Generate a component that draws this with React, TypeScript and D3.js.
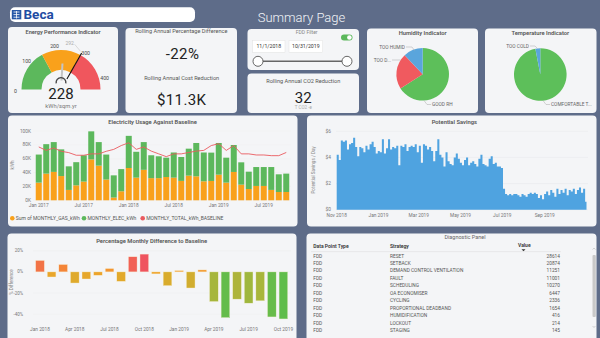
import React from 'react';
import * as d3 from 'd3';

const FONT = 'Roboto, "Noto Sans", "DejaVu Sans", sans-serif';
const BG = '#5e6c89';
const PANEL = '#f4f5f7';
const TITLE = '#555';

// ---------------- Data ----------------
const gaugeBandEdges = [0, 150, 292, 440];
const gaugeBandColors = ['#5cb85c', '#f9a11b', '#f0565d'];
const gaugeTicks = [0, 100, 200, 300, 400];
const gaugeValue = 228;
const gaugeTarget = 292;
const gaugeUnit = 'kWh/sqm.yr';

const kpiPercentDiff = '-22%';
const kpiCostReduction = '$11.3K';
const kpiCO2 = '32';
const fddStart = '11/1/2018';
const fddEnd = '10/31/2019';

const humidityLabels = ['GOOD RH', 'TOO D...', 'TOO HUMID'];
const humidityValues = [66, 22, 12];
const humidityColors = ['#5dbf5a', '#f05a5f', '#5aa5dc'];
const temperatureLabels = ['COMFORTABLE T...', 'TOO COLD'];
const temperatureValues = [97, 3];
const temperatureColors = ['#5dbf5a', '#5aa5dc'];

const elecMonths = [
  '2017-01', '2017-02', '2017-03', '2017-04', '2017-05', '2017-06', '2017-07', '2017-08', '2017-09', '2017-10', '2017-11', '2017-12',
  '2018-01', '2018-02', '2018-03', '2018-04', '2018-05', '2018-06', '2018-07', '2018-08', '2018-09', '2018-10', '2018-11', '2018-12',
  '2019-01', '2019-02', '2019-03', '2019-04', '2019-05', '2019-06', '2019-07', '2019-08', '2019-09', '2019-10',
];
const gasKwh = [25.5, 38.5, 41, 35, 15, 21.6, 27, 59, 50, 30, 4, 13, 46.6, 32.7, 44, 32, 32, 33.6, 32.7, 28, 35.6, 34.6, 27.4, 27.9, 37, 25.5, 40.9, 22.6, 16.3, 20.7, 20.7, 15, 12, 12].map(v => v * 1000);
const elecKwh = [40.5, 42.5, 43, 38.5, 34, 33.4, 38, 40.5, 34, 36, 32, 32, 46.4, 37.3, 40, 33, 31.5, 27.9, 36.3, 34.5, 38.9, 48.1, 41.6, 40.9, 45.7, 36, 38.9, 32.2, 25, 27.3, 27.3, 33, 25.5, 26.5].map(v => v * 1000);
const baselineKwh = [77, 72, 75.5, 70.7, 68.8, 65, 65, 67, 67, 70.7, 73.5, 79, 83, 73.5, 77, 71, 67, 63, 67, 67, 69, 71, 72, 79, 81.7, 72, 79, 67, 67, 65.4, 65.4, 64.4, 64.4, 69].map(v => v * 1000);
const elecTicks = [0, 20000, 40000, 60000, 80000, 100000];
const elecXLabels = ['2017-01', '2017-07', '2018-01', '2018-07', '2019-01', '2019-07'];
const elecLegend = ['Sum of MONTHLY_GAS_kWh', 'MONTHLY_ELEC_kWh', 'MONTHLY_TOTAL_kWh_BASELINE'];

const savingsStart = '2018-11-01';
const savingsEnd = '2019-11-01';
const savingsStepDays = 3;
const savingsPerDay = [
  4.2, 3.8, 5.3, 5.2, 5.3, 4.6, 5.0, 5.1, 5.5, 4.8, 4.1, 4.8, 4.7, 4.4, 4.9, 4.6, 5.0, 5.2, 4.8, 4.3,
  4.5, 4.4, 5.4, 4.3, 4.7, 5.4, 4.6, 4.8, 4.7, 4.9, 3.4, 4.9, 4.8, 5.0, 4.5, 4.8, 4.9, 4.8, 5.0, 4.4,
  4.9, 3.6, 5.0, 4.9, 4.6, 4.8, 4.5, 3.7, 4.5, 5.4, 4.2, 4.0, 3.3, 4.4, 3.7, 3.5, 3.4, 4.0, 4.3, 3.9,
  3.6, 3.4, 3.8, 4.0, 3.4, 3.6, 3.7, 3.5, 3.3, 3.9, 4.2, 3.5, 3.4, 3.3, 3.9, 4.1, 3.5, 3.6, 3.3, 3.3,
  3.2, 1.6, 1.2, 1.1, 1.2, 1.1, 1.2, 1.2, 1.1, 1.0, 1.2, 1.1, 1.0, 1.2, 1.3, 1.2, 1.3, 1.2, 0.9, 1.1,
  0.8, 1.2, 1.4, 1.1, 1.5, 1.3, 1.0, 1.6, 1.2, 1.5, 1.3, 1.6, 1.1, 1.5, 1.4, 1.6, 1.2, 1.5, 1.7, 1.3,
  1.6, 0.6,
];
const savingsTicks = [0, 2, 4, 6];
const savingsXLabels = ['2018-11', '2019-01', '2019-03', '2019-05', '2019-07', '2019-09'];

const pctMonths = [
  '2018-01', '2018-02', '2018-03', '2018-04', '2018-05', '2018-06', '2018-07', '2018-08', '2018-09', '2018-10', '2018-11', '2018-12',
  '2019-01', '2019-02', '2019-03', '2019-04', '2019-05', '2019-06', '2019-07', '2019-08', '2019-09', '2019-10',
];
const pctDiff = [10.8, -4.8, 7, -10.5, -6.7, -3.2, 3.2, -8.9, 14.3, 16.8, -1.9, -13, 1.3, -15.2, 1.9, -28, -43.2, -25.7, -29.5, -27.3, -42.5, -44.4];
const pctTicks = [20, 0, -20, -40];
const pctXLabels = ['2018-01', '2018-04', '2018-07', '2018-10', '2019-01', '2019-04', '2019-07', '2019-10'];

const diagTypes = ['FDD', 'FDD', 'FDD', 'FDD', 'FDD', 'FDD', 'FDD', 'FDD', 'FDD', 'FDD', 'FDD'];
const diagStrategies = ['RESET', 'SETBACK', 'DEMAND CONTROL VENTILATION', 'FAULT', 'SCHEDULING', 'OA ECONOMISER', 'CYCLING', 'PROPORTIONAL DEADBAND', 'HUMIDIFICATION', 'LOCKOUT', 'STAGING'];
const diagValues = [28614, 20874, 11251, 11001, 10270, 6447, 2336, 1654, 416, 214, 145];

// ---------------- Helpers ----------------
const parseMonth = d3.timeParse('%Y-%m');
const fmtMonth = d3.timeFormat('%b %Y');
const monthLabel = (m: string) => fmtMonth(parseMonth(m) as Date);

const Panel = ({ x, y, w, h }: { x: number; y: number; w: number; h: number }) => (
  <rect x={x} y={y} width={w} height={h} rx={4} fill={PANEL} />
);

const T = (props: any) => {
  const { children, size = 5.5, fill = '#555', anchor = 'middle', weight = 400, ...rest } = props;
  return (
    <text fontFamily={FONT} fontSize={size} fill={fill} textAnchor={anchor} fontWeight={weight} dominantBaseline="central" {...rest}>
      {children}
    </text>
  );
};

// ---------------- Gauge ----------------
function Gauge() {
  const cx = 61, cy = 89.5, R = 39.5, r = 19.5;
  const ang = d3.scaleLinear().domain([gaugeBandEdges[0], gaugeBandEdges[gaugeBandEdges.length - 1]]).range([-Math.PI / 2, Math.PI / 2]);
  const arc = d3.arc();
  const pt = (a: number, rad: number) => [cx + rad * Math.sin(a), cy - rad * Math.cos(a)];
  const [tx1, ty1] = pt(ang(gaugeTarget), 12);
  const [tx2, ty2] = pt(ang(gaugeTarget), 42);
  const [vx1, vy1] = pt(ang(gaugeValue), 9);
  const [vx2, vy2] = pt(ang(gaugeValue), 26);
  const [lx, ly] = pt(ang(gaugeTarget) - 0.33, 47);
  const hub = d3.arc()({ innerRadius: 4.2, outerRadius: 5.6, startAngle: -1.75, endAngle: 1.75 } as any);
  return (
    <g>
      <T x={63} y={32} size={5.6} weight={600} fill={TITLE}>Energy Performance Indicator</T>
      {gaugeBandColors.map((c, i) => (
        <path key={i} transform={`translate(${cx},${cy})`} fill={c}
          d={arc({ innerRadius: r, outerRadius: R, startAngle: ang(gaugeBandEdges[i]), endAngle: ang(gaugeBandEdges[i + 1]) } as any) || ''} />
      ))}
      {gaugeTicks.map(t => {
        const [x, y] = pt(ang(t), 45.5);
        return <T key={t} x={x} y={y + 1.5} size={5.2} fill="#444">{t}</T>;
      })}
      <line x1={vx1} y1={vy1} x2={vx2} y2={vy2} stroke="#c4c4c4" strokeWidth={2} />
      <line x1={tx1} y1={ty1} x2={tx2} y2={ty2} stroke="#111" strokeWidth={1.1} />
      <line x1={lx + 5} y1={ly + 1} x2={tx2 - 1} y2={ty2 - 1.5} stroke="#bbb" strokeWidth={0.5} />
      <T x={lx} y={ly} size={5} fill="#aaa">{gaugeTarget}</T>
      <path transform={`translate(${cx},${cy - 7})`} d={hub || ''} fill="#444" />
      <T x={cx} y={93.8} size={15} fill="#222">{gaugeValue}</T>
      <T x={cx} y={106.3} size={5.8} fill="#777">{gaugeUnit}</T>
    </g>
  );
}

// ---------------- Pie ----------------
function Pie({ cx, cy, values, colors, labels, title, layout }: any) {
  const pie = d3.pie<number>().sort(null).startAngle(0).endAngle(2 * Math.PI);
  const arc = d3.arc();
  const arcs = pie(values);
  return (
    <g>
      <T x={cx} y={32.5} size={5.8} weight={600} fill={TITLE}>{title}</T>
      {arcs.map((a: any, i: number) => (
        <path key={i} transform={`translate(${cx},${cy})`} fill={colors[i]}
          d={arc({ innerRadius: 0, outerRadius: 26.3, startAngle: a.startAngle, endAngle: a.endAngle } as any) || ''} />
      ))}
      {labels.map((l: string, i: number) => {
        const L = layout[i];
        return (
          <g key={i}>
            <polyline points={L.leader.map((p: number[]) => p.join(',')).join(' ')} fill="none" stroke="#aaa" strokeWidth={0.5} />
            <T x={L.x} y={L.y} size={4.8} fill="#666" anchor={L.anchor}>{l}</T>
          </g>
        );
      })}
    </g>
  );
}

const humidityLayout = [
  { x: 432, y: 104.5, anchor: 'start', leader: [[431, 104.5], [427, 104.5], [424, 100.5]] },
  { x: 391, y: 60, anchor: 'end', leader: [[392, 60], [400.5, 60]] },
  { x: 405, y: 47, anchor: 'end', leader: [[406, 47], [412, 47], [414.5, 50.5]] },
];
const temperatureLayout = [
  { x: 551, y: 104.5, anchor: 'start', leader: [[550, 104.5], [546, 104.5], [543, 100.5]] },
  { x: 529, y: 46, anchor: 'end', leader: [[530, 46], [535, 46], [537.5, 48.5]] },
];

// ---------------- Electricity ----------------
function Electricity() {
  const x = d3.scaleBand().domain(elecMonths).range([35, 290]).paddingInner(0.2).paddingOuter(0.1);
  const y = d3.scaleLinear().domain([0, 100000]).range([200.3, 131]);
  const line = d3.line<number>().x((_, i) => (x(elecMonths[i]) as number) + x.bandwidth() / 2).y(d => y(d));
  const legendColors = ['#f9a11b', '#5cb85c', '#ea5a5f'];
  const legendX = [12.3, 84, 142.7];
  return (
    <g>
      <T x={152.5} y={121.5} size={5.8} weight={600} fill={TITLE}>Electricity Usage Against Baseline</T>
      <T x={12.5} y={165} size={4.6} fill="#888" transform="rotate(-90 12.5 165)">kWh</T>
      {elecTicks.map(t => (
        <g key={t}>
          <line x1={33} x2={291} y1={y(t)} y2={y(t)} stroke="#eeeeee" strokeWidth={0.4} />
          <T x={31} y={y(t)} size={4.8} fill="#777" anchor="end">{t / 1000 + 'K'}</T>
        </g>
      ))}
      {elecMonths.map((m, i) => (
        <g key={m}>
          <rect x={x(m)} width={x.bandwidth()} y={y(gasKwh[i])} height={y(0) - y(gasKwh[i])} fill="#f9a11b" />
          <rect x={x(m)} width={x.bandwidth()} y={y(gasKwh[i] + elecKwh[i])} height={y(gasKwh[i]) - y(gasKwh[i] + elecKwh[i])} fill="#5cb85c" />
        </g>
      ))}
      <path d={line(baselineKwh) || ''} fill="none" stroke="#ea5a5f" strokeWidth={0.9} />
      {elecXLabels.map(m => (
        <T key={m} x={(x(m) as number) + x.bandwidth() / 2} y={205.5} size={4.8} fill="#777">{monthLabel(m)}</T>
      ))}
      {elecLegend.map((l, i) => (
        <g key={l}>
          <circle cx={legendX[i]} cy={218.3} r={2.3} fill={legendColors[i]} />
          <T x={legendX[i] + 3.5} y={218.3} size={5} fill="#555" anchor="start">{l}</T>
        </g>
      ))}
    </g>
  );
}

// ---------------- Savings ----------------
function Savings() {
  const start = d3.timeParse('%Y-%m-%d')(savingsStart) as Date;
  const end = d3.timeParse('%Y-%m-%d')(savingsEnd) as Date;
  const x = d3.scaleTime().domain([start, end]).range([336.7, 586.5]);
  const y = d3.scaleLinear().domain([0, 6]).range([209.7, 131.3]);
  const pts = savingsPerDay.map((v, i) => ({ d: d3.timeDay.offset(start, i * savingsStepDays), v }));
  pts.push({ d: d3.timeDay.offset(start, savingsPerDay.length * savingsStepDays - 1), v: savingsPerDay[savingsPerDay.length - 1] });
  const area = d3.area<any>().x(p => x(p.d)).y0(y(0)).y1(p => y(p.v)).curve(d3.curveStepAfter);
  return (
    <g>
      <T x={454.3} y={121.5} size={5.8} weight={600} fill={TITLE}>Potential Savings</T>
      <T x={313.5} y={170} size={4.6} fill="#888" transform="rotate(-90 313.5 170)">Potential Savings / Day</T>
      {savingsTicks.map(t => (
        <g key={t}>
          <line x1={336} x2={588} y1={y(t)} y2={y(t)} stroke="#e6e7ea" strokeWidth={0.5} />
          <T x={331} y={y(t)} size={4.8} fill="#777" anchor="end">{'$' + t}</T>
        </g>
      ))}
      <path d={area(pts) || ''} fill="#4fa3e0" />
      {savingsXLabels.map(m => (
        <T key={m} x={x(parseMonth(m) as Date)} y={215.5} size={4.8} fill="#777">{monthLabel(m)}</T>
      ))}
    </g>
  );
}

// ---------------- Percentage ----------------
function Percentage() {
  const x = d3.scaleBand().domain(pctMonths).range([34.2, 289.2]).paddingInner(0.25).paddingOuter(0.125);
  const y = d3.scaleLinear().domain([-40, 20]).range([314.3, 250.7]);
  const color = d3.scaleLinear<string>().domain([-45, -28, -12, 0, 8, 17])
    .range(['#5cbd4c', '#a6b63c', '#dcab2c', '#f2a22a', '#f4813a', '#ef5360']);
  return (
    <g>
      <T x={151.7} y={241} size={5.8} weight={600} fill={TITLE}>Percentage Monthly Difference to Baseline</T>
      <T x={11} y={282} size={4.6} fill="#888" transform="rotate(-90 11 282)">% Difference</T>
      {pctTicks.map(t => (
        <g key={t}>
          <line x1={33} x2={291} y1={y(t)} y2={y(t)} stroke="#eeeeee" strokeWidth={0.4} />
          <T x={23} y={y(t)} size={4.5} fill="#777" anchor="end">{t + '%'}</T>
        </g>
      ))}
      {pctMonths.map((m, i) => (
        <rect key={m} x={x(m)} width={x.bandwidth()} y={y(Math.max(0, pctDiff[i]))}
          height={Math.abs(y(pctDiff[i]) - y(0))} fill={color(pctDiff[i])} stroke="#f7f0d8" strokeWidth={0.4} />
      ))}
      {pctXLabels.map(m => (
        <T key={m} x={(x(m) as number) + x.bandwidth() / 2} y={329.5} size={4.8} fill="#777">{monthLabel(m)}</T>
      ))}
    </g>
  );
}

// ---------------- Diagnostic table ----------------
function Diagnostic() {
  const rowY = d3.scaleLinear().domain([0, 1]).range([256, 263.45]);
  return (
    <g>
      <T x={465} y={236.5} size={5.5} fill="#666">Diagnostic Panel</T>
      <T x={313.3} y={245.7} size={5} fill="#333" anchor="start" weight={600}>Data Point Type</T>
      <T x={390} y={245.7} size={5} fill="#333" anchor="start" weight={600}>Strategy</T>
      <T x={518} y={244.8} size={5} fill="#333" anchor="start" weight={600}>Value</T>
      <path d="M521.5,249.3 L525.5,249.3 L523.5,251.3 Z" fill="#333" />
      <line x1={311} x2={561} y1={251.6} y2={251.6} stroke="#ddd" strokeWidth={0.5} />
      {diagStrategies.map((s, i) => (
        <g key={s}>
          <T x={313.3} y={rowY(i)} size={4.8} fill="#555" anchor="start">{diagTypes[i]}</T>
          <T x={390} y={rowY(i)} size={4.8} fill="#555" anchor="start">{s}</T>
          <T x={560} y={rowY(i)} size={4.8} fill="#555" anchor="end">{diagValues[i]}</T>
        </g>
      ))}
      <rect x={592.5} y={255} width={3.3} height={62} rx={1} fill="#c9c9c9" />
      <path d="M592.6,249.5 L594,248 L595.4,249.5" fill="none" stroke="#aaa" strokeWidth={0.5} />
      <path d="M592.6,326 L594,327.5 L595.4,326" fill="none" stroke="#aaa" strokeWidth={0.5} />
    </g>
  );
}

export default function App() {
  return (
    <svg width={600} height={338} viewBox="0 0 600 338" style={{ position: 'fixed', left: 0, top: 0, display: 'block' }}>
      <rect x={0} y={0} width={600} height={338} fill={BG} />
      {/* Header */}
      <rect x={10} y={7.3} width={185} height={14.7} rx={5} fill="#fff" />
      <rect x={11.8} y={10} width={9.5} height={9.3} fill="#2557a7" />
      <path d="M13.5,12 h6 M13.5,14.6 h6 M13.5,17.2 h6 M16.5,11 v7.5" stroke="#fff" strokeWidth={0.8} />
      <text x={23.5} y={19.4} fontFamily={FONT} fontSize={13.5} fontWeight={700} fill="#1f4da3">Beca</text>
      <text x={301.5} y={21.5} fontFamily={FONT} fontSize={13} fontWeight={300} fill="#f2f4f8" textAnchor="middle">Summary Page</text>

      <Panel x={8} y={27} w={110} h={86} />
      <Panel x={125.5} y={28} w={111.5} h={85} />
      <Panel x={247.5} y={29} w={111.5} h={41} />
      <Panel x={247.5} y={73.5} w={111.5} h={39.5} />
      <Panel x={367} y={28.5} w={111} h={84.5} />
      <Panel x={485} y={28.5} w={111.5} h={84.5} />
      <Panel x={8} y={115.5} w={289.5} h={111} />
      <Panel x={307} y={115.5} w={289.5} h={111} />
      <Panel x={7.5} y={233.5} w={289} h={115} />
      <Panel x={306.5} y={233.5} w={290} h={115} />

      <Gauge />

      {/* KPI */}
      <T x={181.3} y={31.3} size={5.6} fill={TITLE}>Rolling Annual Percentage Difference</T>
      <T x={182.5} y={53.5} size={15} fill="#222" letterSpacing={0.4}>{kpiPercentDiff}</T>
      <T x={181.7} y={77.7} size={5.6} fill={TITLE}>Rolling Annual Cost Reduction</T>
      <T x={181.7} y={99.5} size={15} fill="#222" letterSpacing={0.4}>{kpiCostReduction}</T>

      {/* FDD filter */}
      <T x={306.7} y={31.5} size={5} fill="#888">FDD Filter</T>
      <rect x={341} y={34.5} width={11.5} height={6} rx={3} fill="#5cb85c" />
      <circle cx={349.4} cy={37.5} r={2.3} fill="#fff" />
      <rect x={252.7} y={40.3} width={32.3} height={12} fill="#fff" stroke="#e2e2e2" strokeWidth={0.5} />
      <rect x={289} y={40.3} width={33.7} height={12} fill="#fff" stroke="#e2e2e2" strokeWidth={0.5} />
      <T x={268.8} y={46.3} size={5.2} fill="#333">{fddStart}</T>
      <T x={305.8} y={46.3} size={5.2} fill="#333">{fddEnd}</T>
      <line x1={258} x2={347} y1={61.3} y2={61.3} stroke="#666" strokeWidth={1.4} />
      <circle cx={258} cy={61.3} r={5} fill="#fff" stroke="#555" strokeWidth={0.9} />
      <circle cx={347} cy={61.3} r={5} fill="#fff" stroke="#555" strokeWidth={0.9} />

      {/* CO2 */}
      <T x={303.3} y={81} size={5.6} fill={TITLE}>Rolling Annual CO2 Reduction</T>
      <T x={303.3} y={97.5} size={15} fill="#222">{kpiCO2}</T>
      <T x={303.3} y={107.8} size={4.5} fill="#aaa">T CO2 -e</T>

      <Pie cx={422.7} cy={74.3} values={humidityValues} colors={humidityColors} labels={humidityLabels} title="Humidity Indicator" layout={humidityLayout} />
      <Pie cx={540.3} cy={74.5} values={temperatureValues} colors={temperatureColors} labels={temperatureLabels} title="Temperature Indicator" layout={temperatureLayout} />

      <Electricity />
      <Savings />
      <Percentage />
      <Diagnostic />
    </svg>
  );
}
